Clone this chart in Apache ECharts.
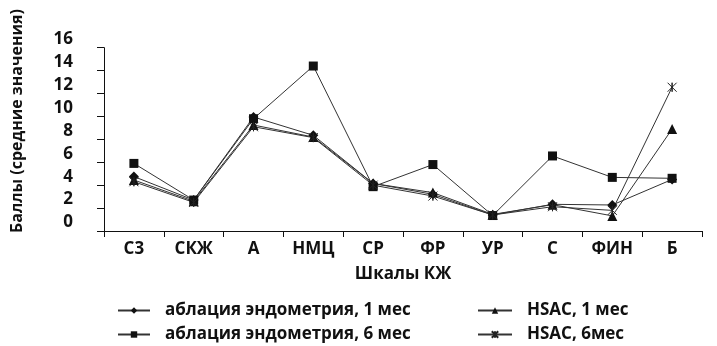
<!DOCTYPE html>
<html><head><meta charset="utf-8">
<script src="https://cdn.jsdelivr.net/npm/echarts@6/dist/echarts.min.js"></script>
<style>html,body{margin:0;padding:0;background:#fff}#c{width:717px;height:346px}</style>
</head><body><div id="c"></div>
<script>
const categories = ['С3','СКЖ','А','НМЦ','СР','ФР','УР','С','ФИН','Б'];
const yTicks = [0,2,4,6,8,10,12,14,16];
const seriesNames = ['аблация эндометрия, 1 мес','аблация эндометрия, 6 мес','HSAC, 1 мес','HSAC, 6мес'];
const ablation1 = [4.75, 2.7, 9.95, 8.35, 4.15, 3.2, 1.4, 2.33, 2.27, 4.5];
const ablation6 = [5.9, 2.7, 9.8, 14.4, 3.87, 5.8, 1.35, 6.55, 4.68, 4.6];
const hsac1 = [4.45, 2.6, 9.25, 8.2, 4.15, 3.35, 1.45, 2.3, 1.32, 8.9];
const hsac6 = [4.3, 2.5, 9.1, 8.15, 4.0, 3.05, 1.4, 2.12, 1.8, 12.55];
const yAxisTitle = 'Баллы (средние значения)';
const xAxisTitle = 'Шкалы КЖ';

const FONT = '"Open Sans", "DejaVu Sans", sans-serif';
const txt = {fontFamily: FONT, fontWeight: 'bold', fontSize: 17, color: '#111'};
const starPath = 'path://M0,0L10,10M10,0L0,10M5,0L5,10Z';

const chart = echarts.init(document.getElementById('c'), null, {renderer: 'canvas'});
function line(name, data, symbol, size, extraItem) {
  return {
    name, type: 'line', data, symbol, symbolSize: size,
    lineStyle: {color: '#333', width: 1, type: 'solid'},
    itemStyle: Object.assign({color: '#111'}, extraItem || {}),
    emphasis: {disabled: true}, animation: false
  };
}
const legendText = Object.assign({}, txt, {padding: [0, 0, 0, 10]});
chart.setOption({
  backgroundColor: '#fff',
  animation: false,
  grid: {left: 104, right: 15, top: 47.7, bottom: 115, containLabel: false},
  xAxis: {
    type: 'category', data: categories, boundaryGap: true,
    name: xAxisTitle, nameLocation: 'middle', nameGap: 35,
    nameTextStyle: Object.assign({}, txt),
    axisLine: {lineStyle: {color: '#111', width: 1}},
    axisTick: {show: true, inside: false, length: 6, lineStyle: {color: '#111'}},
    axisLabel: Object.assign({margin: 10}, txt),
    splitLine: {show: false}
  },
  yAxis: {
    type: 'value', min: 0, max: 16, interval: 2,
    axisLine: {show: true, lineStyle: {color: '#111', width: 1}},
    axisTick: {show: true, length: 7, lineStyle: {color: '#111'}},
    axisLabel: Object.assign({margin: 31, verticalAlign: 'bottom', formatter: v => yTicks.includes(v) ? String(v) : ''}, txt, {fontSize: 17}),
    splitLine: {show: false}
  },
  graphic: [{
    type: 'text', x: 17, y: 121, rotation: Math.PI / 2,
    style: {text: yAxisTitle, fontFamily: FONT, fontWeight: 'bold', fontSize: 16, fill: '#111', align: 'center', verticalAlign: 'middle'}
  }],
  legend: [
    {orient: 'vertical', left: 117, top: 302, padding: 0, itemGap: 7, itemWidth: 32, itemHeight: 8,
     data: [seriesNames[0], seriesNames[1]], textStyle: legendText, selectedMode: false},
    {orient: 'vertical', left: 477, top: 302, padding: 0, itemGap: 7, itemWidth: 34, itemHeight: 8,
     data: [seriesNames[2], seriesNames[3]], textStyle: legendText, selectedMode: false}
  ],
  series: [
    line(seriesNames[0], ablation1, 'diamond', 10),
    line(seriesNames[1], ablation6, 'rect', 9),
    line(seriesNames[2], hsac1, 'triangle', 10),
    line(seriesNames[3], hsac6, starPath, 9, {color: 'transparent', borderColor: '#222', borderWidth: 1})
  ]
});
</script></body></html>
